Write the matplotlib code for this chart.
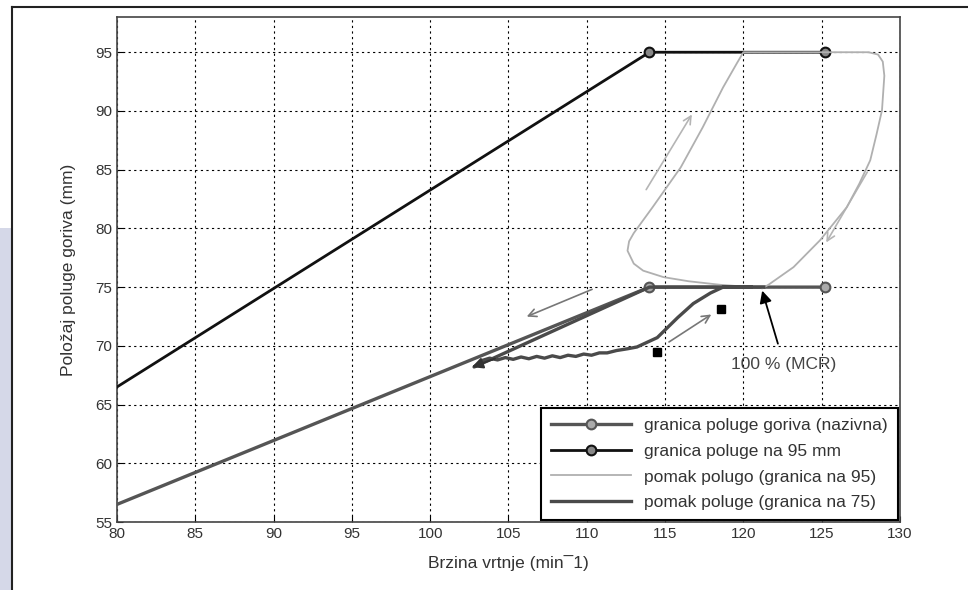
import numpy as np
import matplotlib
matplotlib.use('Agg')
import matplotlib.pyplot as plt
from matplotlib.lines import Line2D
from matplotlib.patches import Rectangle

plt.rcParams['font.family'] = ['Liberation Sans', 'DejaVu Sans']

# granica poluge goriva (nazivna)
nom_x = [80, 114, 125.2]
nom_y = [56.5, 75, 75]
# granica poluge na 95 mm
lim_x = [80, 114, 125.2]
lim_y = [66.5, 95, 95]
# pomak polugo (granica na 95) - light trace
p95_x = [120.5, 118.5, 116.5, 114.9, 113.6, 113.0, 112.6, 112.7, 113.0, 114.2, 116.0, 117.4,
         118.7, 119.6, 120.0, 124.0, 128.0, 128.6, 128.9, 129.0, 128.85, 128.5, 128.1, 127.4,
         126.6, 124.9, 123.2, 121.6, 121.2]
p95_y = [75.0, 75.2, 75.5, 75.85, 76.4, 77.0, 78.1, 78.9, 79.6, 81.8, 85.2, 88.6,
         92.0, 94.1, 95.0, 95.0, 95.0, 94.8, 94.2, 93.0, 90.06, 88.0, 85.8, 83.8,
         81.8, 79.0, 76.7, 75.2, 74.9]
# pomak poluge (granica na 75) - dark trace
p75_x = [121.3, 114.0, 102.8, 103.3, 103.8, 104.3, 104.8, 105.3, 105.8, 106.3, 106.8, 107.3,
         107.8, 108.3, 108.8, 109.3, 109.8, 110.3, 110.8, 111.3, 111.9, 112.6, 113.2, 114.5,
         115.8, 116.8, 117.9, 118.7, 120.5]
p75_y = [75.0, 75.0, 68.2, 68.75, 68.95, 68.8, 69.0, 68.85, 69.05, 68.9, 69.1, 68.95,
         69.15, 69.0, 69.2, 69.1, 69.3, 69.2, 69.4, 69.4, 69.6, 69.75, 69.9, 70.7,
         72.4, 73.6, 74.5, 75.0, 75.0]
# black square marks
sq_x = [114.5, 118.6]
sq_y = [69.5, 73.1]

fig = plt.figure(figsize=(9.68, 5.90), dpi=100)
fig.patch.set_facecolor('white')

# outer frame and side strip
fig.add_artist(Rectangle((0, 0), 12/968, 1 - 228/590, transform=fig.transFigure,
                         facecolor='#d5d8e8', edgecolor='none'))
fig.add_artist(Line2D([12/968, 12/968], [0, 1 - 7/590], color='#222222', lw=1.5))
fig.add_artist(Line2D([12/968, 1], [1 - 7/590, 1 - 7/590], color='#222222', lw=1.5))

ax = fig.add_axes([117/968, 1 - 522/590, 783/968, 505/590])

ax.plot(nom_x, nom_y, '-o', color='#555555', lw=2.4, ms=7, mfc='#aaaaaa', mec='#555555',
        mew=1.5, markevery=[1, 2], label='granica poluge goriva (nazivna)', zorder=4)
ax.plot(lim_x, lim_y, '-o', color='#111111', lw=2.0, ms=7, mfc='#888888', mec='#111111',
        mew=1.5, markevery=[1, 2], label='granica poluge na 95 mm', zorder=4)
ax.plot(p95_x, p95_y, '-', color='#b0b0b0', lw=1.3, label='pomak polugo (granica na 95)', zorder=5)
ax.plot(p75_x, p75_y, '-', color='#4a4a4a', lw=2.4, label='pomak poluge (granica na 75)', zorder=5)
ax.plot(sq_x, sq_y, 's', color='black', ms=6, zorder=6)

# arrowhead at the end of the dark trace
ax.annotate('', xy=(102.5, 68.1), xytext=(104.3, 69.0),
            arrowprops=dict(arrowstyle='-|>', color='#333333', lw=1.5, mutation_scale=16), zorder=6)

# direction arrows
ax.annotate('', xy=(116.8, 89.9), xytext=(113.7, 83.1),
            arrowprops=dict(arrowstyle='->', color='#b5b5b5', lw=1.2, mutation_scale=14))
ax.annotate('', xy=(125.2, 78.6), xytext=(128.0, 85.0),
            arrowprops=dict(arrowstyle='->', color='#b5b5b5', lw=1.2, mutation_scale=14))
ax.annotate('', xy=(106.0, 72.4), xytext=(110.5, 74.9),
            arrowprops=dict(arrowstyle='->', color='#777777', lw=1.2, mutation_scale=14))
ax.annotate('', xy=(118.1, 72.8), xytext=(115.1, 70.2),
            arrowprops=dict(arrowstyle='->', color='#777777', lw=1.2, mutation_scale=14))

ax.annotate('100 % (MCR)', xy=(121.2, 74.7), xytext=(122.6, 68.4),
            fontsize=12.5, color='#444444', ha='center', va='center',
            arrowprops=dict(arrowstyle='-|>', color='black', lw=1.3, mutation_scale=18,
                            shrinkA=8, shrinkB=0))

ax.set_xlim(80, 130)
ax.set_ylim(55, 98)
ax.set_xticks(np.arange(80, 131, 5))
ax.set_yticks(np.arange(55, 96, 5))
ax.tick_params(direction='in', labelsize=11, labelcolor='#333333', length=4)
ax.grid(True, color='black', linestyle=(0, (2, 3)), lw=0.8)
for s in ax.spines.values():
    s.set_color('#444444')
    s.set_linewidth(1.2)

ax.set_xlabel('Brzina vrtnje (min¯1)', fontsize=12.5, color='#333333', labelpad=10)
ax.set_ylabel('Položaj poluge goriva (mm)', fontsize=12.5, color='#333333', labelpad=14)

leg = ax.legend(loc='lower right', bbox_to_anchor=(0.997, 0.004), borderaxespad=0,
                fontsize=12.5, fancybox=False, edgecolor='black', framealpha=1,
                handlelength=4.6, labelspacing=0.62, borderpad=0.55)
leg.get_frame().set_linewidth(1.5)
for t in leg.get_texts():
    t.set_color('#333333')

fig.savefig('out.png', dpi=100)
